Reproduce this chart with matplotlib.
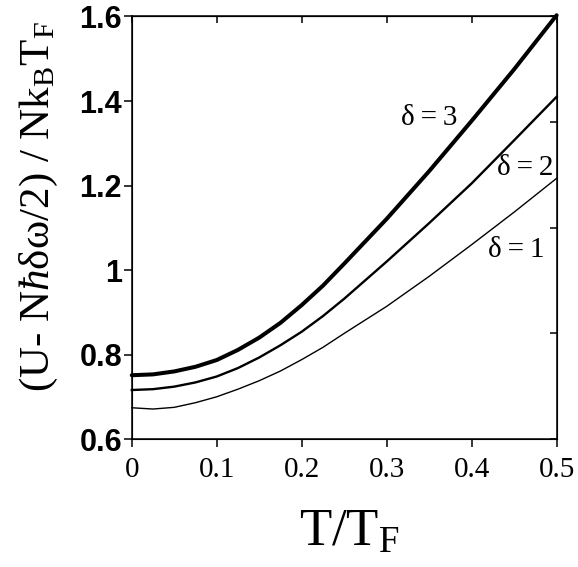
import numpy as np
import matplotlib
matplotlib.use('Agg')
import matplotlib.pyplot as plt

plt.rcParams['mathtext.fontset'] = 'custom'
plt.rcParams['mathtext.rm'] = 'Liberation Serif'
plt.rcParams['mathtext.it'] = 'Liberation Serif:italic'

# reduced temperature
t = [0, 0.025, 0.05, 0.075, 0.1, 0.125, 0.15, 0.175, 0.2, 0.225, 0.25,
     0.3, 0.35, 0.4, 0.45, 0.5]
# (U - N hbar delta omega / 2) / N kB TF
u_d3 = [0.751, 0.753, 0.760, 0.771, 0.787, 0.811, 0.840, 0.875, 0.917, 0.963, 1.015,
        1.121, 1.234, 1.353, 1.475, 1.603]
u_d2 = [0.716, 0.718, 0.724, 0.734, 0.748, 0.768, 0.793, 0.822, 0.854, 0.891, 0.932,
        1.020, 1.111, 1.205, 1.307, 1.410]
u_d1 = [0.674, 0.671, 0.675, 0.686, 0.700, 0.718, 0.738, 0.761, 0.788, 0.817, 0.850,
        0.914, 0.985, 1.060, 1.137, 1.217]

curve_labels = ["δ\u2009=\u20093", "δ\u2009=\u20092", "δ\u2009=\u20091"]
label_pos = [(0.35, 1.36), (0.463, 1.241), (0.453, 1.047)]

xticks = [0, 0.1, 0.2, 0.3, 0.4, 0.5]
xticklabels = ["0", "0.1", "0.2", "0.3", "0.4", "0.5"]
yticks = [0.6, 0.8, 1.0, 1.2, 1.4, 1.6]
yticklabels = ["0.6", "0.8", "1", "1.2", "1.4", "1.6"]

fig = plt.figure(figsize=(5.78, 5.67), dpi=100)
ax = fig.add_axes([0.228, 0.2257, 0.735, 0.7452])

ax.plot(t, u_d3, color="black", lw=2.9, clip_on=False, solid_capstyle="round",
        solid_joinstyle="round")
ax.plot(t, u_d2, color="black", lw=1.7, clip_on=False, solid_joinstyle="round")
ax.plot(t, u_d1, color="black", lw=1.0, clip_on=False, solid_joinstyle="round")

for txt, (x, y) in zip(curve_labels, label_pos):
    ax.text(x, y, txt, fontsize=21, family="Liberation Serif", ha="center", va="center")

ax.set_xlim(0, 0.5)
ax.set_ylim(0.6, 1.6)
ax.set_xticks(xticks)
ax.set_xticklabels(xticklabels, family="Liberation Serif", fontsize=21)
ax.set_yticks(yticks)
ax.set_yticklabels(yticklabels, family="Liberation Sans", fontsize=22, fontweight="bold")
ax.tick_params(axis="both", direction="out", length=6, width=1.1, color="black")
ax.tick_params(axis="y", pad=1)
ax.tick_params(axis="x", pad=7)
for s in ax.spines.values():
    s.set_linewidth(1.1)

# inward ticks on the top and right frame
top = ax.secondary_xaxis("top")
top.set_xticks(xticks)
top.tick_params(direction="in", length=5, width=1.1, labeltop=False)

ax2 = ax.twinx()
ax2.set_ylim(0, 4)
ax2.set_yticks([0, 1, 2, 3, 4])
ax2.tick_params(direction="in", length=5, width=1.1, labelright=False)

fig.text(0.605, 0.06, r"T/T$_\mathrm{F}$", fontsize=38, family="Liberation Serif",
         ha="center", va="center")
fig.text(0.068, 0.635, "(U- N$\\mathit{ħ}$δω/2) / Nk$_\\mathrm{B}$T$_\\mathrm{F}$",
         fontsize=31, family="Liberation Serif", rotation=90, ha="center", va="center")

fig.savefig("out.png", dpi=100)
